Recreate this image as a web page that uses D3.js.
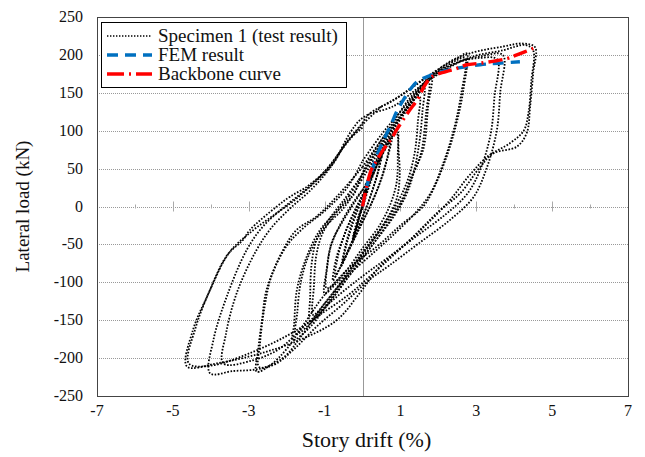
<!DOCTYPE html>
<html>
<head>
<meta charset="utf-8">
<script src="https://cdn.jsdelivr.net/npm/d3@7"></script>
<style>
  body { margin: 0; background: #fff; }
  text { font-family: "Liberation Serif", "Times New Roman", serif; fill: #111; }
</style>
</head>
<body>
<div id="chart"></div>
<script>
// tick values
const xTicks = [-7, -5, -3, -1, 1, 3, 5, 7];
const yTicks = [-250, -200, -150, -100, -50, 0, 50, 100, 150, 200, 250];

// hysteresis loops of specimen 1, [drift %, load kN]
const loop025a = [[0,0],[0.1,20],[0.22,45],[0.12,22],[0,2],[-0.12,-20],[-0.25,-45],[-0.13,-22],[0,-2]];
const loop025b = [[0,-2],[0.12,24],[0.2,40],[0.09,14],[-0.03,-4],[-0.15,-25],[-0.26,-42],[-0.12,-15],[0.02,4]];
const loop050a = [[0.02,2],[0.2,30],[0.38,55],[0.52,72],[0.42,48],[0.25,20],[0.05,-8],[-0.15,-30],[-0.35,-55],[-0.52,-74],[-0.42,-50],[-0.25,-22],[-0.05,5]];
const loop050b = [[-0.05,5],[0.15,28],[0.35,50],[0.5,66],[0.38,40],[0.2,12],[0,-14],[-0.2,-38],[-0.4,-60],[-0.55,-78],[-0.45,-52],[-0.3,-25],[-0.1,2]];
const loop075a = [[-0.1,2],[0.2,35],[0.45,62],[0.7,85],[0.78,92],[0.65,62],[0.45,30],[0.2,0],[-0.1,-30],[-0.4,-62],[-0.65,-86],[-0.78,-98],[-0.7,-70],[-0.5,-40],[-0.25,-10],[0,15]];
const loop075b = [[0,12],[0.25,40],[0.5,66],[0.72,86],[0.62,58],[0.42,26],[0.15,-5],[-0.15,-36],[-0.45,-66],[-0.72,-92],[-0.64,-64],[-0.45,-34],[-0.2,-6],[0.05,20]];
const loop100a = [[0.05,20],[0.3,50],[0.6,80],[0.91,102],[0.95,75],[0.98,40],[0.9,10],[0.6,-20],[0.2,-50],[-0.3,-82],[-0.7,-102],[-1.0,-115],[-0.95,-85],[-0.85,-55],[-0.6,-25],[-0.25,5],[0.05,25]];
const loop100b = [[0.05,25],[0.35,58],[0.65,84],[0.9,96],[0.93,66],[0.9,32],[0.75,5],[0.45,-25],[0,-55],[-0.45,-86],[-0.8,-104],[-0.95,-108],[-0.92,-76],[-0.8,-46],[-0.5,-18],[-0.15,10],[0.1,30]];
const loop150a = [[0.1,30],[0.4,65],[0.8,100],[1.2,132],[1.62,158],[1.58,125],[1.5,85],[1.35,45],[1.15,15],[0.8,-15],[0.3,-48],[-0.2,-80],[-0.7,-115],[-1.1,-140],[-1.38,-152],[-1.38,-119],[-1.34,-75],[-1.21,-44],[-0.9,-18],[-0.5,8],[-0.1,35]];
const loop150b = [[-0.1,35],[0.3,68],[0.7,98],[1.1,125],[1.5,146],[1.46,112],[1.38,72],[1.2,36],[0.95,8],[0.55,-24],[0,-60],[-0.5,-95],[-0.95,-125],[-1.3,-143],[-1.28,-105],[-1.22,-65],[-1.05,-35],[-0.75,-12],[-0.35,14]];
const loop200a = [[-0.35,14],[0,42],[0.5,82],[1.0,118],[1.4,148],[1.82,172],[1.73,132],[1.6,75],[1.25,35],[1.07,9],[0.7,-20],[0.2,-55],[-0.4,-95],[-1.0,-135],[-1.4,-160],[-1.83,-176],[-1.8,-154],[-1.73,-110],[-1.47,-66],[-1.12,-31],[-0.7,-8],[-0.3,12]];
const loop200b = [[-0.3,12],[0.1,45],[0.6,86],[1.1,122],[1.5,150],[1.75,164],[1.68,125],[1.55,72],[1.3,38],[1.0,6],[0.55,-26],[0,-62],[-0.6,-104],[-1.2,-145],[-1.75,-168],[-1.72,-140],[-1.62,-98],[-1.38,-60],[-1.0,-28],[-0.55,-5],[-0.2,18]];
const loop300a = [[-0.2,18],[0.1,55],[0.4,80],[0.8,110],[1.2,140],[1.7,167],[2.2,188],[2.57,198],[2.75,202],[2.66,154],[2.48,110],[2.22,66],[1.86,22],[1.6,0],[1.0,-25],[0.4,-52],[-0.33,-80],[-1.04,-119],[-1.5,-152],[-2.0,-188],[-2.4,-208],[-2.79,-218],[-2.75,-189],[-2.65,-150],[-2.53,-110],[-2.09,-57],[-1.74,-31],[-1.21,-13],[-0.68,13],[0,52]];
const loop300b = [[0,52],[0.5,88],[1.0,120],[1.5,152],[2.0,178],[2.45,192],[2.7,196],[2.6,148],[2.42,104],[2.15,60],[1.8,18],[1.4,-8],[0.8,-38],[0.2,-65],[-0.4,-92],[-1.0,-128],[-1.6,-170],[-2.1,-200],[-2.72,-212],[-2.7,-180],[-2.58,-132],[-2.4,-92],[-2.0,-52],[-1.55,-28],[-1.0,-6],[-0.4,25],[0,60]];
const loop400a = [[0,60],[0.5,95],[1.0,125],[1.7,165],[2.5,190],[3.1,198],[3.7,200],[3.63,150],[3.54,100],[3.27,50],[2.92,12],[2.3,-18],[1.5,-48],[0.7,-78],[0.2,-96],[-0.5,-128],[-1.2,-158],[-1.8,-188],[-2.3,-208],[-2.8,-215],[-3.4,-217],[-4.02,-220],[-3.93,-176],[-3.58,-119],[-3.05,-57],[-2.6,-25],[-2.0,2],[-1.5,22],[-1.0,46],[-0.5,78],[0,108],[0.5,132]];
const loop400b = [[0.5,132],[1.0,146],[1.7,170],[2.5,190],[3.1,196],[3.55,194],[3.48,145],[3.38,96],[3.1,48],[2.75,16],[2.2,-10],[1.4,-40],[0.6,-70],[0,-92],[-0.7,-120],[-1.5,-156],[-2.2,-188],[-2.9,-203],[-3.67,-207],[-3.6,-168],[-3.3,-112],[-2.8,-58],[-2.4,-28],[-1.9,-2],[-1.4,20],[-0.9,48],[-0.4,86],[0,110]];
const loop450a = [[0,110],[0.2,123],[0.81,140],[1.69,171],[2.3,190],[2.83,202],[3.7,211],[4.23,215],[4.55,210],[4.5,176],[4.42,132],[4.33,97],[4.07,79],[3.45,70],[3.1,52],[2.57,17],[2.04,-5],[1.25,-44],[0.46,-79],[-0.07,-114],[-0.68,-150],[-1.65,-176],[-2.7,-194],[-3.84,-207],[-4.63,-211],[-4.47,-163],[-4.1,-119],[-3.58,-65],[-3.15,-44],[-2.97,-31],[-2.26,0],[-1.91,13],[-1.47,26],[-1.04,44],[-0.68,66],[-0.33,97],[-0.07,114],[0.2,123]];
const loop450b = [[0.2,123],[0.8,132],[1.7,165],[2.8,196],[3.7,206],[4.3,213],[4.5,206],[4.45,165],[4.38,125],[4.25,100],[3.9,84],[3.3,66],[2.8,40],[2.3,8],[1.6,-28],[0.8,-65],[0.2,-92],[-0.33,-115],[-1.04,-140],[-1.9,-168],[-2.9,-192],[-4.0,-210],[-4.58,-207],[-4.4,-160],[-4.0,-108],[-3.5,-60],[-2.9,-32],[-2.3,-10],[-1.8,8],[-1.3,30],[-0.8,55],[-0.4,86],[0,104]];

// FEM result and backbone curve
const femCurve = [[0,0],[0.12,28],[0.25,48],[0.4,70],[0.6,92],[0.77,110],[0.9,125],[1.07,140],[1.25,154],[1.45,165],[1.8,173],[2.25,180],[3.1,187],[3.6,189],[4.15,191]];
const backbone = [[0,0],[0.22,47],[0.33,57],[0.55,75],[0.77,90],[0.91,102],[1.2,124],[1.47,143],[1.62,158],[1.82,171],[2.2,178],[2.48,182],[2.75,187],[3.1,189],[3.8,195],[4.07,200],[4.57,210]];

const testLoops = [loop025a, loop025b, loop050a, loop050b, loop075a, loop075b, loop100a, loop100b,
  loop150a, loop150b, loop200a, loop200b, loop300a, loop300b, loop400a, loop400b, loop450a, loop450b];

const legendNames = ["Specimen 1 (test result)", "FEM result", "Backbone curve"];

const svgWidth = 645;
const svgHeight = 457;
const margin = { top: 17, right: 17, bottom: 61, left: 97 };
const width = svgWidth - margin.left - margin.right;
const height = svgHeight - margin.top - margin.bottom;

const svg = d3.select("#chart")
  .append("svg")
  .attr("width", svgWidth)
  .attr("height", svgHeight);

const chartGroup = svg.append("g")
  .attr("transform", `translate(${margin.left}, ${margin.top})`);

const x = d3.scaleLinear().domain([-7, 7]).range([0, width]);
const y = d3.scaleLinear().domain([-250, 250]).range([height, 0]);

// horizontal grid
chartGroup.append("g")
  .selectAll("line")
  .data(yTicks.filter(d => d !== 250 && d !== -250))
  .enter()
  .append("line")
  .attr("x1", 0)
  .attr("x2", width)
  .attr("y1", d => Math.round(y(d)) + 0.5)
  .attr("y2", d => Math.round(y(d)) + 0.5)
  .attr("stroke", "#999")
  .attr("stroke-width", 1)
  .attr("stroke-dasharray", "1,1");

// vertical zero line
chartGroup.append("line")
  .attr("x1", Math.round(x(0)) + 0.5)
  .attr("x2", Math.round(x(0)) + 0.5)
  .attr("y1", 0)
  .attr("y2", height)
  .attr("stroke", "#999")
  .attr("stroke-width", 1);

// tick marks along the zero line
const crossTicks = d3.range(-6, 7).filter(d => d !== 0);
chartGroup.append("g")
  .selectAll("line")
  .data(crossTicks)
  .enter()
  .append("line")
  .attr("x1", d => Math.round(x(d)) + 0.5)
  .attr("x2", d => Math.round(x(d)) + 0.5)
  .attr("y1", d => y(0) - (d % 2 ? 5 : 2))
  .attr("y2", d => y(0) + (d % 2 ? 5 : 2))
  .attr("stroke", "#aaa")
  .attr("stroke-width", 1);

// test loops
const loopLine = d3.line()
  .x(d => x(d[0]))
  .y(d => y(d[1]))
  .curve(d3.curveCatmullRom.alpha(0.5));

chartGroup.append("g")
  .selectAll("path")
  .data(testLoops)
  .enter()
  .append("path")
  .attr("d", loopLine)
  .attr("fill", "none")
  .attr("stroke", "#000")
  .attr("stroke-width", 1.8)
  .attr("stroke-dasharray", "1.6,1.6");

// FEM
chartGroup.append("path")
  .attr("d", loopLine(femCurve))
  .attr("fill", "none")
  .attr("stroke", "#0070c0")
  .attr("stroke-width", 3.4)
  .attr("stroke-dasharray", "11,7");

// backbone
chartGroup.append("path")
  .attr("d", loopLine(backbone))
  .attr("fill", "none")
  .attr("stroke", "#ff0000")
  .attr("stroke-width", 3.4)
  .attr("stroke-dasharray", "14,5,2,5");

// frame
chartGroup.append("rect")
  .attr("x", 0.5)
  .attr("y", 0.5)
  .attr("width", width)
  .attr("height", height)
  .attr("fill", "none")
  .attr("stroke", "#444")
  .attr("stroke-width", 1);

// tick labels
chartGroup.append("g")
  .selectAll("text")
  .data(yTicks)
  .enter()
  .append("text")
  .attr("x", -14)
  .attr("y", d => y(d) + 5)
  .attr("text-anchor", "end")
  .style("font-size", "16px")
  .text(d => d);

chartGroup.append("g")
  .selectAll("text")
  .data(xTicks)
  .enter()
  .append("text")
  .attr("x", d => x(d))
  .attr("y", height + 20)
  .attr("text-anchor", "middle")
  .style("font-size", "16px")
  .text(d => d);

// axis titles
svg.append("text")
  .attr("x", margin.left + x(0) + 4)
  .attr("y", 447)
  .attr("text-anchor", "middle")
  .style("font-size", "22px")
  .text("Story drift (%)");

svg.append("text")
  .attr("transform", `translate(29, ${margin.top + y(0)}) rotate(-90)`)
  .attr("text-anchor", "middle")
  .style("font-size", "19px")
  .text("Lateral load (kN)");

// legend
const legend = svg.append("g").attr("transform", "translate(101, 22)");
legend.append("rect")
  .attr("x", 0.5)
  .attr("y", 0.5)
  .attr("width", 245)
  .attr("height", 65)
  .attr("fill", "#fff")
  .attr("stroke", "#000")
  .attr("stroke-width", 1);

const legendStyles = [
  { color: "#000", width: 1.5, dash: "1.4,1.6" },
  { color: "#0070c0", width: 3.4, dash: "11,7" },
  { color: "#ff0000", width: 3.4, dash: "17,5,2,5" }
];

legendNames.forEach((name, i) => {
  const ly = 14 + i * 19;
  legend.append("line")
    .attr("x1", 6)
    .attr("x2", 51)
    .attr("y1", ly)
    .attr("y2", ly)
    .attr("stroke", legendStyles[i].color)
    .attr("stroke-width", legendStyles[i].width)
    .attr("stroke-dasharray", legendStyles[i].dash);
  legend.append("text")
    .attr("x", 57)
    .attr("y", ly + 6)
    .style("font-size", "19px")
    .text(name);
});
</script>
</body>
</html>
